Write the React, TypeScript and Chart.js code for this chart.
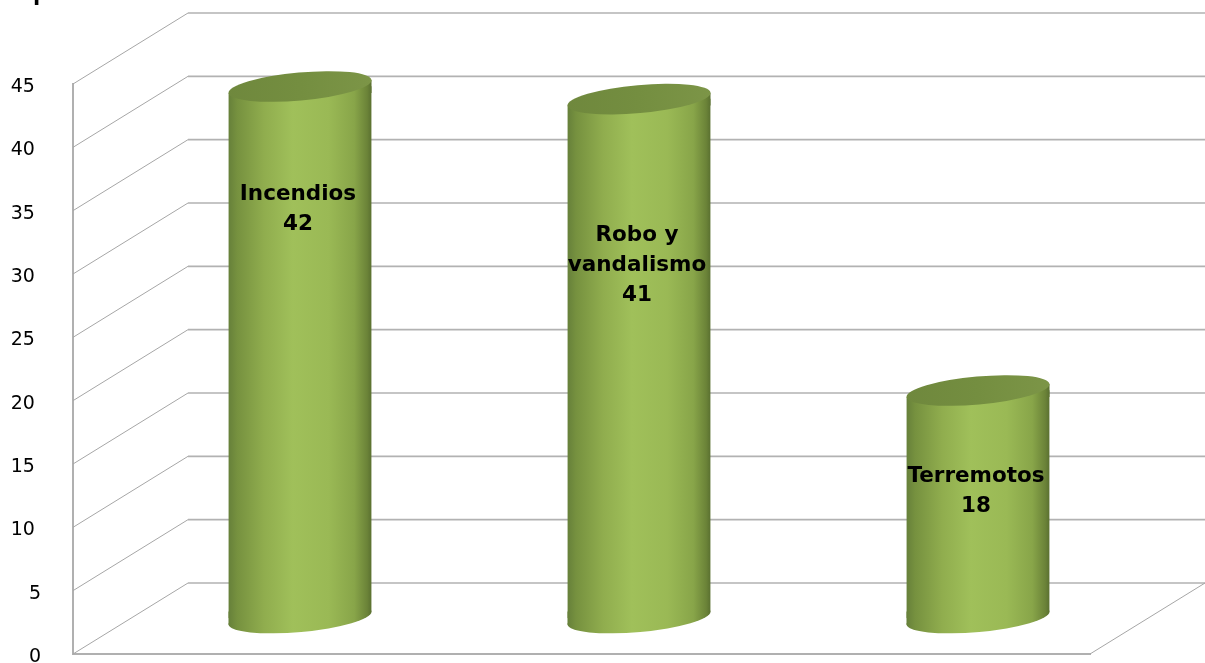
import React, { useEffect, useRef } from "react";
import { Chart, registerables } from "chart.js";

Chart.register(...registerables);

const categories = ["Incendios", "Robo y vandalismo", "Terremotos"];
const values = [42, 41, 18];
const labelLines = [["Incendios", "42"], ["Robo y", "vandalismo", "41"], ["Terremotos", "18"]];
// Axis value (in the cylinder's plane) at which each label block is centred
const labelLevels = [32.3, 27.9, 10];
const yTicks = [0, 5, 10, 15, 20, 25, 30, 35, 40, 45];

// Depth of the drawn floor and how far the cylinders sit into it
const DEPTH_X = 115;
const DEPTH_Y = -71;
const BAR_SHIFT_X = DEPTH_X / 2;
const BAR_SHIFT_Y = DEPTH_Y / 2;
const BAR_WIDTH = 143;
const TILT = -0.09;
const RIM_RY = 14;
const RIM_DROP = (BAR_WIDTH / 2) * Math.tan(-TILT);

function bodyGradient(ctx: CanvasRenderingContext2D, left: number) {
  const g = ctx.createLinearGradient(left, 0, left + BAR_WIDTH, 0);
  g.addColorStop(0, "#66803a");
  g.addColorStop(0.06, "#76913f");
  g.addColorStop(0.25, "#90ad4e");
  g.addColorStop(0.45, "#a0c05a");
  g.addColorStop(0.7, "#9ab955");
  g.addColorStop(0.88, "#88a549");
  g.addColorStop(0.97, "#6b8338");
  g.addColorStop(1, "#5a7030");
  return g;
}

const wallPlugin = {
  id: "wall",
  beforeDatasetsDraw(chart: any) {
    const { ctx, chartArea, scales } = chart;
    const y = scales.y;
    const pageRight = chart.width;
    ctx.save();
    // Receding lines and back wall grid for each tick
    yTicks.forEach((t) => {
      const py = y.getPixelForValue(t);
      ctx.strokeStyle = "#a6a6a6";
      ctx.lineWidth = 1;
      ctx.beginPath();
      ctx.moveTo(chartArea.left, py);
      ctx.lineTo(chartArea.left + DEPTH_X, py + DEPTH_Y);
      ctx.stroke();
      ctx.lineWidth = 1.6;
      ctx.strokeStyle = "#b2b2b2";
      ctx.beginPath();
      ctx.moveTo(chartArea.left + DEPTH_X, py + DEPTH_Y);
      ctx.lineTo(pageRight, py + DEPTH_Y);
      ctx.stroke();
    });
    // Right edge of the floor
    ctx.lineWidth = 1;
    ctx.strokeStyle = "#a6a6a6";
    ctx.beginPath();
    ctx.moveTo(chartArea.right, chartArea.bottom);
    ctx.lineTo(chartArea.right + DEPTH_X, chartArea.bottom + DEPTH_Y);
    ctx.stroke();
    ctx.restore();
  },
  beforeDatasetDraw(chart: any) {
    const { ctx } = chart;
    const meta = chart.getDatasetMeta(0);
    ctx.save();
    ctx.translate(BAR_SHIFT_X, BAR_SHIFT_Y);
    // Slant the flat ends of the bars to follow the tilted rims
    ctx.beginPath();
    meta.data.forEach((bar: any) => {
      const l = bar.x - BAR_WIDTH / 2;
      const r = bar.x + BAR_WIDTH / 2;
      ctx.moveTo(l, bar.y + RIM_DROP);
      ctx.lineTo(r, bar.y - RIM_DROP);
      ctx.lineTo(r, bar.base - RIM_DROP);
      ctx.lineTo(l, bar.base + RIM_DROP);
      ctx.closePath();
    });
    ctx.clip();
  },
  afterDatasetDraw(chart: any) {
    const { ctx } = chart;
    ctx.restore();
    const meta = chart.getDatasetMeta(0);
    ctx.save();
    ctx.translate(BAR_SHIFT_X, BAR_SHIFT_Y);
    meta.data.forEach((bar: any) => {
      const left = bar.x - BAR_WIDTH / 2;
      const right = left + BAR_WIDTH;
      const rx = BAR_WIDTH / 2 / Math.cos(TILT);
      ctx.fillStyle = bodyGradient(ctx, left);
      // Wedge joining the body to the foot
      ctx.beginPath();
      ctx.moveTo(left, bar.base - RIM_DROP);
      ctx.lineTo(right, bar.base - RIM_DROP);
      ctx.lineTo(left, bar.base + RIM_DROP);
      ctx.closePath();
      ctx.fill();
      // Rounded foot of the cylinder
      ctx.beginPath();
      ctx.ellipse(bar.x, bar.base, rx, RIM_RY, TILT, 0, Math.PI * 2);
      ctx.fill();
      // Wedge joining the body to the top face
      ctx.beginPath();
      ctx.moveTo(left, bar.y + RIM_DROP);
      ctx.lineTo(right, bar.y - RIM_DROP);
      ctx.lineTo(right, bar.y + RIM_DROP);
      ctx.closePath();
      ctx.fill();
      // Darker top face
      const top = ctx.createLinearGradient(left, 0, right, 0);
      top.addColorStop(0, "#6f883d");
      top.addColorStop(0.5, "#748e40");
      top.addColorStop(1, "#7c9547");
      ctx.fillStyle = top;
      ctx.beginPath();
      ctx.ellipse(bar.x, bar.y, rx, RIM_RY, TILT, 0, Math.PI * 2);
      ctx.fill();
    });
    ctx.restore();
  },
  afterDraw(chart: any) {
    const { ctx, scales } = chart;
    const meta = chart.getDatasetMeta(0);
    ctx.save();
    ctx.fillStyle = "#000000";
    ctx.textAlign = "center";
    ctx.textBaseline = "middle";
    ctx.font = 'bold 21.5px "DejaVu Sans"';
    const lineHeight = 30;
    meta.data.forEach((bar: any, i: number) => {
      const lines = labelLines[i];
      const cy = scales.y.getPixelForValue(labelLevels[i]) + BAR_SHIFT_Y;
      lines.forEach((text, k) => {
        ctx.fillText(text, bar.x + BAR_SHIFT_X - 2, cy + (k - (lines.length - 1) / 2) * lineHeight);
      });
    });
    // Heading cut off by the top edge of the page
    ctx.textAlign = "left";
    ctx.textBaseline = "alphabetic";
    ctx.font = 'bold 26px "Liberation Sans"';
    ctx.fillText("p", 33, 0);
    ctx.restore();
  },
};

export default function App() {
  const ref = useRef<HTMLCanvasElement>(null);

  useEffect(() => {
    const chart = new Chart(ref.current as HTMLCanvasElement, {
      type: "bar",
      plugins: [wallPlugin],
      data: {
        labels: categories,
        datasets: [
          {
            data: values,
            barThickness: BAR_WIDTH,
            borderWidth: 0,
            backgroundColor: (c: any) => {
              const x = c.chart.scales?.x;
              const px = x && c.dataIndex !== undefined ? x.getPixelForValue(c.dataIndex) : NaN;
              if (!Number.isFinite(px)) return "#9aba55";
              return bodyGradient(c.chart.ctx, px - BAR_WIDTH / 2);
            },
          },
        ],
      },
      options: {
        animation: false,
        responsive: false,
        layout: { padding: { top: 84, bottom: 9, right: 115, left: 0 } },
        plugins: { legend: { display: false }, tooltip: { enabled: false } },
        scales: {
          x: {
            afterFit: (s: any) => {
              s.height = 0;
            },
            grid: { display: false, drawTicks: false },
            border: { color: "#b0b0b0", width: 2 },
            ticks: { display: false, padding: 0 },
          },
          y: {
            min: 0,
            max: 45,
            afterFit: (s: any) => {
              s.width = 73;
            },
            afterBuildTicks: (s: any) => {
              s.ticks = yTicks.map((value) => ({ value }));
            },
            // Invisible tick marks hold the labels away from the axis
            grid: { drawOnChartArea: false, drawTicks: true, tickLength: 32, tickColor: "rgba(0,0,0,0)" },
            border: { color: "#b0b0b0", width: 2 },
            ticks: {
              padding: 0,
              labelOffset: 3,
              color: "#000000",
              font: { family: "DejaVu Sans", size: 19, lineHeight: 0.8 },
              // Two-digit labels sit a little further from the axis
              callback: (v: any) => (Number(v) >= 10 ? `${v}\u00a0` : `${v}`),
            },
          },
        },
      },
    } as any);
    return () => chart.destroy();
  }, []);

  return (
    <canvas
      ref={ref}
      width={1205}
      height={663}
      style={{ position: "absolute", left: 0, top: 0, width: 1205, height: 663 }}
    />
  );
}
